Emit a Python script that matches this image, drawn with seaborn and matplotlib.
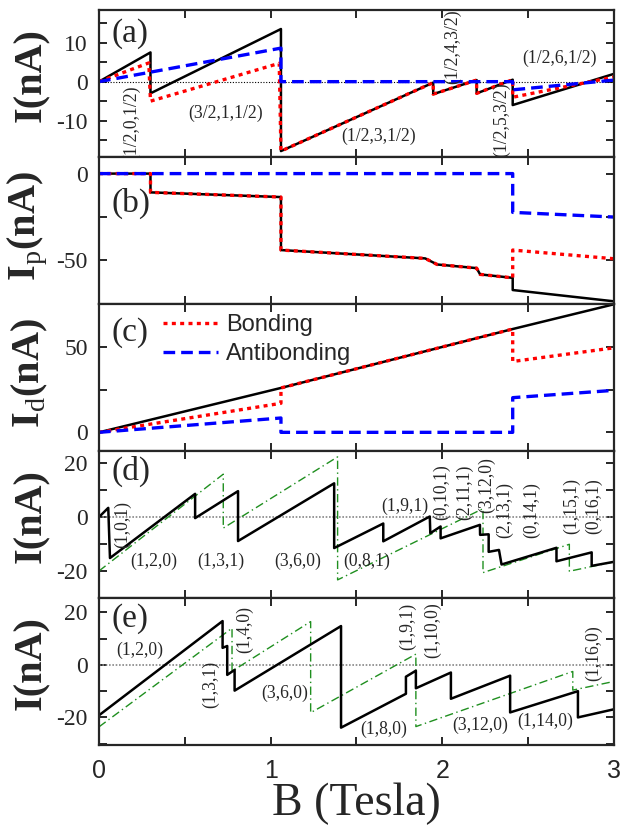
import matplotlib
matplotlib.use('Agg')
import matplotlib.pyplot as plt
import seaborn as sns
from matplotlib.ticker import MultipleLocator

# --- data (B in Tesla, I in nA) ---
# panel (a): total current, bonding and antibonding parts
a_tot_x = [0, 0.30, 0.30, 1.06, 1.06, 1.947, 1.947, 2.20, 2.20, 2.41, 2.41, 3.0]
a_tot_y = [0, 7.5, -3.0, 13.5, -17.8, -0.25, -3.2, 0.4, -3.0, 0.5, -6.0, 2.0]
a_bond_x = [0, 0.29, 0.30, 1.05, 1.06, 1.947, 1.947, 2.20, 2.20, 2.41, 2.41, 3.0]
a_bond_y = [0, 4.8, -5.0, 4.7, -17.8, -0.25, -3.2, 0.4, -3.0, 0.5, -4.0, 1.2]
a_anti_x = [0, 1.06, 1.06, 2.41, 2.41, 3.0]
a_anti_y = [0, 8.6, 0, 0, -2.1, 0.4]

# panel (b): paramagnetic part
b_tot_x = [0, 0.30, 0.30, 1.06, 1.06, 1.90, 1.97, 2.20, 2.22, 2.41, 2.41, 3.0]
b_tot_y = [0, 0, -10.8, -13.5, -44, -48.8, -52.3, -54.4, -58, -60, -67, -73.5]
b_bond_x = [0, 0.30, 0.30, 1.06, 1.06, 1.90, 1.97, 2.20, 2.22, 2.41, 2.41, 3.0]
b_bond_y = [0, 0, -10.8, -13.5, -44, -48.8, -52.3, -54.4, -58, -60, -44, -49]
b_anti_x = [0, 2.41, 2.41, 3.0]
b_anti_y = [0, 0, -22.3, -25]

# panel (c): diamagnetic part
c_tot_x = [0, 1.06, 2.41, 3.0]
c_tot_y = [0, 26, 60.5, 75]
c_bond_x = [0, 1.06, 1.06, 2.41, 2.41, 3.0]
c_bond_y = [0, 17, 26, 60.5, 41.5, 49.5]
c_anti_x = [0, 1.06, 1.06, 2.41, 2.41, 3.0]
c_anti_y = [0, 8.4, 0, 0, 20.3, 24.6]

# panel (d)
d_solid_x = [0, 0.054, 0.064, 0.56, 0.56, 0.81, 0.81, 1.37, 1.37, 1.656, 1.656,
             1.927, 1.93, 1.99, 1.99, 2.219, 2.22, 2.27, 2.27, 2.33, 2.345,
             2.665, 2.665, 2.87, 2.87, 3.0]
d_solid_y = [0, 3.4, -15.2, 8.6, -0.4, 9.6, -8.9, 12.5, -11.5, -2.4, -9.0,
             0.2, -6.0, -3.5, -7.9, -2.9, -6.6, -6.4, -12.9, -12.2, -17.6,
             -11.4, -16.4, -13.1, -18.1, -16.6]
d_dash_x = [0, 0.724, 0.724, 1.39, 1.39, 2.237, 2.237, 2.74, 2.74, 3.0]
d_dash_y = [-20, 15.9, -4.1, 22.3, -23.3, 3.1, -20.6, -10.1, -20.1, -16.6]

# panel (e)
e_solid_x = [0, 0.72, 0.72, 0.747, 0.747, 0.79, 0.79, 1.41, 1.41, 1.788, 1.788,
             1.846, 1.846, 2.05, 2.05, 2.395, 2.395, 2.79, 2.79, 3.0]
e_solid_y = [-19.2, 16.7, 6.5, 7.2, -3.8, -1.9, -9.8, 14.8, -23.9, -11.0, -4.5,
             -2.2, -8.9, -2.9, -12.9, -4.1, -18.1, -10.0, -20.0, -16.9]
e_dash_x = [0, 0.775, 0.775, 1.233, 1.233, 1.846, 1.846, 2.76, 2.76, 3.0]
e_dash_y = [-23.6, 14.0, -2.4, 16.5, -18.2, 4.1, -23.5, -2.5, -9.6, -6.3]

# state labels: (text, B, I, rotation)
a_labels = [("(1/2,0,1/2)", 0.19, -10.5, 90), ("(3/2,1,1/2)", 0.74, -8.0, 0),
            ("(1/2,3,1/2)", 1.63, -14.0, 0), ("(1/2,4,3/2)", 2.06, 9.0, 90),
            ("(1/2,5,3/2)", 2.345, -9.8, 90), ("(1/2,6,1/2)", 2.685, 6.0, 0)]
d_labels = [("(1,0,1)", 0.14, -2.9, 90), ("(1,2,0)", 0.32, -16.3, 0),
            ("(1,3,1)", 0.71, -16.3, 0), ("(3,6,0)", 1.16, -16.3, 0),
            ("(0,8,1)", 1.56, -16.3, 0), ("(1,9,1)", 1.78, 4.0, 0),
            ("(0,10,1)", 1.996, 9.3, 90), ("(2,11,1)", 2.13, 9.3, 90),
            ("(3,12,0)", 2.26, 12.0, 90), ("(2,13,1)", 2.365, 2.5, 90),
            ("(0,14,1)", 2.52, 2.5, 90), ("(1,15,1)", 2.755, 4.2, 90),
            ("(0,16,1)", 2.88, 4.2, 90)]
e_labels = [("(1,2,0)", 0.24, 5.6, 0), ("(1,3,1)", 0.65, -7.5, 90),
            ("(1,4,0)", 0.85, 13.4, 90), ("(3,6,0)", 1.08, -11.0, 0),
            ("(1,8,0)", 1.66, -24.7, 0), ("(1,9,1)", 1.80, 14.5, 90),
            ("(1,10,0)", 1.945, 13.3, 90), ("(3,12,0)", 2.22, -23.0, 0),
            ("(1,14,0)", 2.60, -21.6, 0), ("(1,16,0)", 2.88, 4.4, 90)]

sns.set_style("ticks")
plt.rcParams['font.family'] = ['Liberation Serif', 'DejaVu Serif']
plt.rcParams['mathtext.fontset'] = 'custom'
plt.rcParams['mathtext.rm'] = 'Liberation Serif'
plt.rcParams['axes.unicode_minus'] = False

fig, axes = plt.subplots(5, 1, figsize=(6.21, 8.25), dpi=100, sharex=True)
fig.subplots_adjust(left=0.1594, right=0.9887, top=0.988, bottom=0.097, hspace=0)

red_dot = (0, (1.2, 1.3))
blue_dash = (0, (3.5, 1.8))
green_dd = (0, (6, 2.5, 1, 2.5))


def line(ax, x, y, **kw):
    sns.lineplot(x=x, y=y, ax=ax, estimator=None, sort=False, legend=False, **kw)


ax = axes[0]
ax.axhline(0, color='black', lw=0.8, ls=(0, (1, 1.5)))
line(ax, a_tot_x, a_tot_y, color='black', lw=1.8)
line(ax, a_bond_x, a_bond_y, color='red', lw=2.4, linestyle=red_dot)
line(ax, a_anti_x, a_anti_y, color='blue', lw=2.4, linestyle=blue_dash)

ax = axes[1]
line(ax, b_tot_x, b_tot_y, color='black', lw=1.8)
line(ax, b_bond_x, b_bond_y, color='red', lw=2.4, linestyle=red_dot)
line(ax, b_anti_x, b_anti_y, color='blue', lw=2.4, linestyle=blue_dash)

ax = axes[2]
line(ax, c_tot_x, c_tot_y, color='black', lw=1.8)
line(ax, c_bond_x, c_bond_y, color='red', lw=2.4, linestyle=red_dot, label='Bonding')
line(ax, c_anti_x, c_anti_y, color='blue', lw=2.4, linestyle=blue_dash, label='Antibonding')
h, l = ax.get_legend_handles_labels()
ax.legend(h, l, loc='upper left', bbox_to_anchor=(0.125, 0.93), frameon=False,
          prop={'family': 'Liberation Sans', 'size': 17}, handlelength=2.3,
          handletextpad=0.35, labelspacing=0.3, borderpad=0, borderaxespad=0)

for ax, sx, sy, gx, gy in [(axes[3], d_solid_x, d_solid_y, d_dash_x, d_dash_y),
                           (axes[4], e_solid_x, e_solid_y, e_dash_x, e_dash_y)]:
    ax.axhline(0, color='#888888', lw=1.2, ls=(0, (1, 1)))
    line(ax, gx, gy, color='#1f8f1f', lw=1.0, linestyle=green_dd)
    line(ax, sx, sy, color='black', lw=1.8)

for ax, labs in [(axes[0], a_labels), (axes[3], d_labels), (axes[4], e_labels)]:
    for txt, x, y, rot in labs:
        ax.text(x, y, txt, fontsize=12.7, rotation=rot, ha='center', va='center',
                clip_on=False)

ylims = [(-19.3, 18.4), (-75, 9.6), (-10.9, 75.2), (-30, 24.5), (-30.5, 25.5)]
majors = [10, 50, 50, 20, 20]
minors = [5, 25, 25, 10, 10]
ylabels = ['I(nA)', r'I$_\mathrm{p}$(nA)', r'I$_\mathrm{d}$(nA)', 'I(nA)', 'I(nA)']
ylab_pos = [0.56, 0.53, 0.53, 0.56, 0.56]
letters = [('(a)', 12.3), ('(b)', -16.9), ('(c)', 58.7), ('(d)', 16.9), ('(e)', 17.6)]

for ax, yl, mj, mn, lab, yp, (let, ly) in zip(axes, ylims, majors, minors, ylabels,
                                              ylab_pos, letters):
    ax.set_xlim(0, 3)
    ax.set_ylim(*yl)
    ax.yaxis.set_major_locator(MultipleLocator(mj))
    ax.yaxis.set_minor_locator(MultipleLocator(mn))
    ax.xaxis.set_major_locator(MultipleLocator(0.5))
    ax.tick_params(which='both', direction='in', top=True, right=True,
                   length=6, width=1.4, labelsize=17, pad=8)
    ax.tick_params(axis='y', labelfontfamily='Liberation Serif')
    for s in ax.spines.values():
        s.set_linewidth(1.6)
    ax.set_ylabel(lab, fontsize=29, fontweight='bold')
    ax.yaxis.set_label_coords(-0.095, yp)
    ax.text(0.07, ly, let, fontsize=24, ha='left', va='center')

axes[4].set_xticks([0, 0.5, 1, 1.5, 2, 2.5, 3])
axes[4].set_xticklabels(['0', '', '1', '', '2', '', '3'],
                        fontfamily='Liberation Sans', fontsize=18)
axes[4].tick_params(axis='x', pad=10)
axes[4].set_xlabel('B (Tesla)', fontsize=33, labelpad=0)

fig.savefig('out.png', dpi=100)
